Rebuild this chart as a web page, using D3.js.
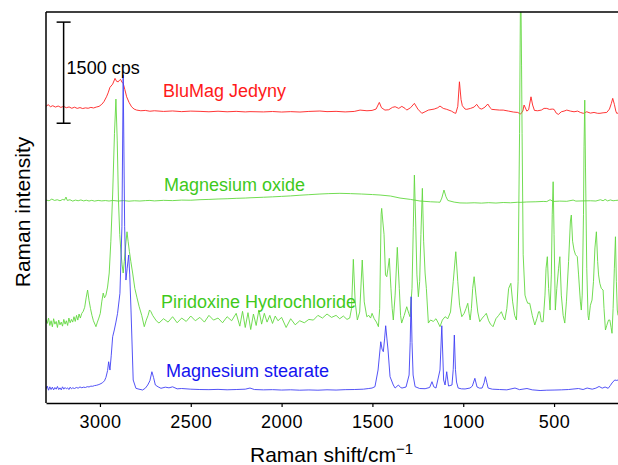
<!DOCTYPE html>
<html>
<head>
<meta charset="utf-8">
<script src="https://cdn.jsdelivr.net/npm/d3@7"></script>
<style>
  body { margin: 0; background: #fff; }
  svg { display: block; font-family: "Liberation Sans", Arial, Helvetica, sans-serif; }
</style>
</head>
<body>
<svg width="618" height="465"></svg>
<script>
// spectra: [Raman shift (cm-1), counts above own baseline]
var blumag = [[3297,400],[3285,425],[3272,395],[3260,410],[3245,390],[3230,405],[3215,385],[3200,400],[3185,380],[3170,392],[3155,372],[3140,388],[3125,370],[3110,382],[3095,368],[3080,378],[3065,372],[3050,385],[3035,376],[3020,390],[3005,400],[2990,430],[2978,470],[2964,542],[2955,600],[2945,682],[2930,730],[2917,815],[2908,770],[2899,765],[2892,790],[2886,800],[2879,760],[2872,741],[2863,650],[2853,542],[2840,460],[2826,394],[2812,360],[2798,345],[2775,335],[2750,340],[2725,328],[2700,335],[2650,325],[2600,332],[2550,322],[2500,330],[2449,326],[2400,320],[2350,328],[2300,320],[2250,326],[2200,318],[2174,322],[2100,318],[2050,324],[2000,316],[1950,322],[1899,316],[1850,325],[1789,331],[1750,322],[1700,326],[1650,318],[1600,325],[1568,345],[1530,335],[1502,340],[1480,360],[1462,459],[1450,380],[1431,345],[1410,350],[1390,385],[1375,395],[1355,370],[1338,400],[1320,370],[1311,345],[1290,380],[1269,445],[1250,360],[1228,297],[1210,320],[1192,345],[1160,360],[1140,380],[1128,405],[1110,370],[1091,356],[1065,330],[1050,305],[1041,297],[1030,400],[1021,765],[1012,500],[1005,410],[990,360],[981,356],[960,370],[940,390],[926,430],[910,370],[898,360],[880,390],[865,435],[852,380],[843,356],[820,350],[800,345],[780,345],[750,330],[724,316],[700,310],[684,286],[672,330],[665,420],[650,330],[640,350],[627,542],[618,420],[608,340],[590,335],[570,345],[555,370],[540,370],[525,355],[510,360],[500,356],[488,300],[476,281],[460,320],[445,330],[430,345],[410,330],[390,320],[370,330],[355,310],[339,297],[320,320],[300,300],[280,310],[260,297],[247,297],[230,305],[210,310],[195,360],[185,440],[177,519],[168,430],[160,330],[155,297],[148,300]];

var mgo = [[3297,210],[3280,200],[3265,225],[3250,205],[3235,215],[3220,200],[3205,220],[3195,210],[3187,255],[3180,205],[3165,215],[3150,195],[3135,210],[3120,200],[3105,212],[3090,198],[3075,208],[3060,196],[3045,206],[3030,195],[3010,205],[2990,198],[2970,203],[2950,196],[2930,204],[2900,196],[2870,202],[2840,194],[2810,200],[2780,196],[2750,202],[2725,205],[2700,198],[2650,206],[2600,202],[2550,210],[2500,208],[2449,216],[2400,220],[2350,226],[2300,230],[2250,236],[2200,240],[2174,244],[2100,252],[2050,258],[2000,265],[1950,272],[1899,282],[1850,290],[1789,300],[1740,306],[1679,310],[1620,306],[1560,300],[1500,292],[1458,285],[1400,270],[1348,240],[1290,220],[1238,196],[1180,185],[1140,180],[1128,178],[1118,240],[1106,359],[1095,260],[1085,205],[1073,196],[1050,180],[1018,168],[980,166],[940,170],[900,165],[860,172],[820,166],[780,174],[740,170],[700,178],[687,176],[650,182],[600,185],[560,190],[540,188],[522,215],[505,190],[470,195],[430,192],[395,210],[380,195],[340,198],[300,200],[270,196],[245,215],[230,200],[219,220],[205,198],[190,212],[175,200],[160,205],[148,208]];

var pyridoxine = [[3297,240],[3290,180],[3283,260],[3276,150],[3269,220],[3262,130],[3255,250],[3248,170],[3241,210],[3234,120],[3227,230],[3220,160],[3213,200],[3206,140],[3199,240],[3192,170],[3185,220],[3178,150],[3171,260],[3164,190],[3157,240],[3150,200],[3143,280],[3136,210],[3129,300],[3122,230],[3115,320],[3108,260],[3100,330],[3092,360],[3084,420],[3076,560],[3068,676],[3060,520],[3052,400],[3044,300],[3036,220],[3028,170],[3022,132],[3014,200],[3006,260],[2998,330],[2990,500],[2982,631],[2975,560],[2967,600],[2958,720],[2949,928],[2940,1400],[2930,2100],[2920,3000],[2912,3508],[2905,2900],[2898,2000],[2891,1500],[2884,1225],[2878,1050],[2872,928],[2866,1100],[2860,1300],[2851,1540],[2845,1400],[2838,1250],[2830,1100],[2820,928],[2808,700],[2796,560],[2784,428],[2770,300],[2756,132],[2745,230],[2735,300],[2727,380],[2719,354],[2710,300],[2700,260],[2690,220],[2675,186],[2650,250],[2625,200],[2600,280],[2575,190],[2550,260],[2525,210],[2500,290],[2475,220],[2450,270],[2425,200],[2400,300],[2375,230],[2350,260],[2325,190],[2300,280],[2275,220],[2250,330],[2230,140],[2215,360],[2200,120],[2185,340],[2170,90],[2155,320],[2140,150],[2125,380],[2110,170],[2095,330],[2080,200],[2065,300],[2050,180],[2035,290],[2020,220],[2000,270],[1975,120],[1950,250],[1925,160],[1900,220],[1875,190],[1850,240],[1825,230],[1800,300],[1775,260],[1750,320],[1725,270],[1700,300],[1680,250],[1660,290],[1640,240],[1625,260],[1615,400],[1605,1131],[1595,500],[1583,231],[1570,350],[1556,1121],[1545,500],[1531,280],[1520,300],[1510,260],[1502,330],[1490,250],[1478,200],[1467,132],[1460,400],[1452,1800],[1449,1887],[1443,1700],[1436,1500],[1428,900],[1421,873],[1414,1000],[1407,1146],[1398,700],[1391,400],[1385,231],[1375,600],[1363,1309],[1352,700],[1345,300],[1339,186],[1325,300],[1311,428],[1300,330],[1293,280],[1282,700],[1275,1600],[1269,2381],[1262,1700],[1255,900],[1247,576],[1240,800],[1233,1500],[1225,2184],[1218,1400],[1210,928],[1203,700],[1192,186],[1180,231],[1165,210],[1150,250],[1140,200],[1128,132],[1115,230],[1100,280],[1085,250],[1070,350],[1055,800],[1041,1244],[1030,800],[1020,450],[1008,280],[995,330],[985,400],[975,479],[968,330],[962,231],[955,400],[948,700],[940,873],[930,600],[920,350],[909,206],[895,260],[882,300],[873,330],[860,220],[850,170],[836,132],[820,250],[805,300],[790,354],[780,280],[771,231],[760,400],[750,700],[738,775],[728,500],[717,300],[707,231],[698,800],[690,3000],[685,5000],[683,5200],[679,4000],[676,3000],[670,1200],[660,600],[652,527],[645,479],[634,479],[620,300],[606,157],[595,250],[585,354],[579,354],[570,206],[560,206],[550,600],[544,1000],[537,1170],[530,700],[522,379],[515,900],[510,1800],[505,2282],[500,1500],[493,379],[485,700],[475,1000],[468,1170],[460,600],[450,300],[441,186],[432,500],[420,1100],[410,1700],[405,1788],[398,1400],[390,1269],[382,1200],[372,1170],[365,900],[355,500],[350,379],[345,600],[338,1800],[335,2800],[331,3493],[327,2500],[320,1000],[313,300],[309,231],[300,450],[291,527],[283,800],[275,1300],[267,1540],[260,1100],[255,900],[248,775],[240,700],[230,676],[225,400],[217,83],[210,150],[200,231],[193,231],[186,120],[181,34],[175,400],[168,1000],[162,1466],[157,800],[152,379],[148,300]];

var stearate = [[3297,210],[3290,250],[3283,190],[3276,240],[3269,200],[3262,235],[3255,195],[3248,230],[3241,205],[3234,245],[3227,200],[3220,225],[3213,195],[3206,240],[3199,205],[3192,230],[3185,210],[3178,225],[3171,200],[3164,235],[3157,210],[3150,225],[3140,215],[3130,230],[3120,220],[3110,238],[3100,226],[3090,235],[3080,230],[3070,242],[3060,238],[3050,250],[3040,248],[3030,258],[3020,262],[3010,270],[3000,280],[2986,300],[2975,330],[2967,380],[2958,480],[2952,612],[2945,489],[2938,700],[2930,983],[2921,1083],[2912,1200],[2903,1330],[2890,1627],[2879,2615],[2872,4864],[2864,2615],[2857,1824],[2850,2000],[2842,2195],[2836,1900],[2829,1379],[2817,341],[2802,218],[2785,205],[2765,193],[2750,220],[2737,267],[2725,330],[2714,464],[2705,380],[2695,267],[2680,240],[2664,218],[2640,235],[2620,225],[2600,240],[2575,210],[2550,215],[2500,205],[2450,200],[2400,198],[2350,202],[2300,196],[2250,200],[2200,205],[2174,222],[2150,200],[2100,195],[2050,198],[2000,192],[1950,196],[1900,190],[1850,194],[1800,190],[1750,196],[1700,192],[1650,198],[1600,200],[1550,205],[1520,215],[1502,222],[1486,242],[1469,489],[1454,909],[1447,800],[1440,761],[1433,950],[1427,1146],[1420,950],[1414,786],[1403,390],[1385,267],[1375,222],[1357,267],[1345,230],[1337,222],[1315,237],[1298,415],[1292,900],[1287,1576],[1282,900],[1276,415],[1265,242],[1240,215],[1210,212],[1185,230],[1172,316],[1162,240],[1150,222],[1128,489],[1118,1146],[1108,341],[1100,267],[1091,464],[1081,252],[1062,267],[1055,500],[1049,1008],[1043,500],[1037,311],[1028,222],[1010,210],[990,208],[963,222],[950,250],[936,366],[924,237],[910,220],[896,222],[885,300],[878,390],[870,300],[863,222],[840,205],[800,200],[760,195],[715,222],[690,198],[649,215],[620,195],[577,185],[540,190],[500,192],[460,195],[420,200],[366,215],[340,200],[318,222],[290,205],[270,220],[252,245],[235,220],[219,237],[202,218],[190,260],[181,297],[166,341],[155,335],[148,341]];

var names = ["BluMag Jedyny", "Magnesium oxide", "Piridoxine Hydrochloride", "Magnesium stearate"];
var offsets = [4000, 2800, 1000, 0];   // stacking offsets, counts
var xTicks = [3000, 2500, 2000, 1500, 1000, 500];
var scaleBarCounts = 1500;

var svg = d3.select("svg"),
    width = +svg.attr("width"),
    height = +svg.attr("height");

// "top" is a reserved window property, so use other names
var mLeft = 46, mTop = 12, mBottom = 403, mRight = width;

var x = d3.scaleLinear().domain([3297, 148]).range([mLeft, mRight]);
var y = d3.scaleLinear().domain([0, 5800]).range([mBottom, mTop]);

svg.append("defs").append("clipPath")
    .attr("id", "plot")
    .append("rect")
    .attr("x", mLeft).attr("y", mTop)
    .attr("width", mRight - mLeft).attr("height", mBottom - mTop);

var series = [
    { name: names[0], data: blumag, off: offsets[0], line: "#ff2020", text: "#ff1a1a", lx: 163, ly: 97 },
    { name: names[1], data: mgo, off: offsets[1], line: "#62d840", text: "#3fc91c", lx: 164, ly: 191 },
    { name: names[2], data: pyridoxine, off: offsets[2], line: "#62d840", text: "#3fc91c", lx: 161, ly: 308 },
    { name: names[3], data: stearate, off: offsets[3], line: "#4040f5", text: "#1414f0", lx: 166, ly: 377 }
];

var line = d3.line()
    .x(function (d) { return x(d[0]); })
    .y(function (d) { return y(d[1]); });

var g = svg.append("g").attr("clip-path", "url(#plot)");

// red first, greens over it, blue on top
series.forEach(function (s) {
    g.append("path")
        .datum(s.data.map(function (d) { return [d[0], d[1] + s.off]; }))
        .attr("fill", "none")
        .attr("stroke", s.line)
        .attr("stroke-width", 0.9)
        .attr("stroke-linejoin", "round")
        .attr("d", line);
});

series.forEach(function (s) {
    svg.append("text")
        .attr("x", s.lx)
        .attr("y", s.ly)
        .attr("fill", s.text)
        .attr("font-size", 18)
        .text(s.name);
});

// frame
svg.append("line")
    .attr("x1", mLeft).attr("x2", mRight)
    .attr("y1", mTop).attr("y2", mTop)
    .attr("stroke", "#000").attr("stroke-width", 1.5);
svg.append("line")
    .attr("x1", mLeft).attr("x2", mLeft)
    .attr("y1", mTop).attr("y2", mBottom)
    .attr("stroke", "#000").attr("stroke-width", 1.5);

var xAxis = svg.append("g")
    .attr("transform", "translate(0," + mBottom + ")")
    .call(d3.axisBottom(x).tickValues(xTicks).tickFormat(d3.format("d"))
        .tickSize(4).tickPadding(8).tickSizeOuter(0));
xAxis.select(".domain").attr("stroke-width", 1.5);
xAxis.selectAll(".tick line").attr("stroke-width", 1.2);
xAxis.selectAll("text")
    .attr("font-family", "'Liberation Sans', Arial, sans-serif")
    .attr("font-size", 18)
    .attr("letter-spacing", "0.5px")
    .attr("fill", "#000");

// scale bar
var sbX = x(3200), sbLo = y(4150), sbHi = y(4150 + scaleBarCounts);
var sb = svg.append("g").attr("stroke", "#000").attr("stroke-width", 1.5);
sb.append("line").attr("x1", sbX).attr("x2", sbX).attr("y1", sbLo).attr("y2", sbHi);
sb.append("line").attr("x1", sbX - 7).attr("x2", sbX + 7).attr("y1", sbLo).attr("y2", sbLo);
sb.append("line").attr("x1", sbX - 7).attr("x2", sbX + 7).attr("y1", sbHi).attr("y2", sbHi);
svg.append("text")
    .attr("x", sbX + 3)
    .attr("y", (sbLo + sbHi) / 2 + 1)
    .attr("font-size", 18)
    .text(scaleBarCounts + " cps");

// axis titles
var xt = svg.append("text")
    .attr("x", 250)
    .attr("y", 462)
    .attr("font-size", 21);
xt.append("tspan").text("Raman shift/cm");
xt.append("tspan").attr("dy", -8).attr("font-size", 15).text("\u22121");

svg.append("text")
    .attr("transform", "translate(30,212) rotate(-90)")
    .attr("text-anchor", "middle")
    .attr("font-size", 21)
    .text("Raman intensity");
</script>
</body>
</html>
